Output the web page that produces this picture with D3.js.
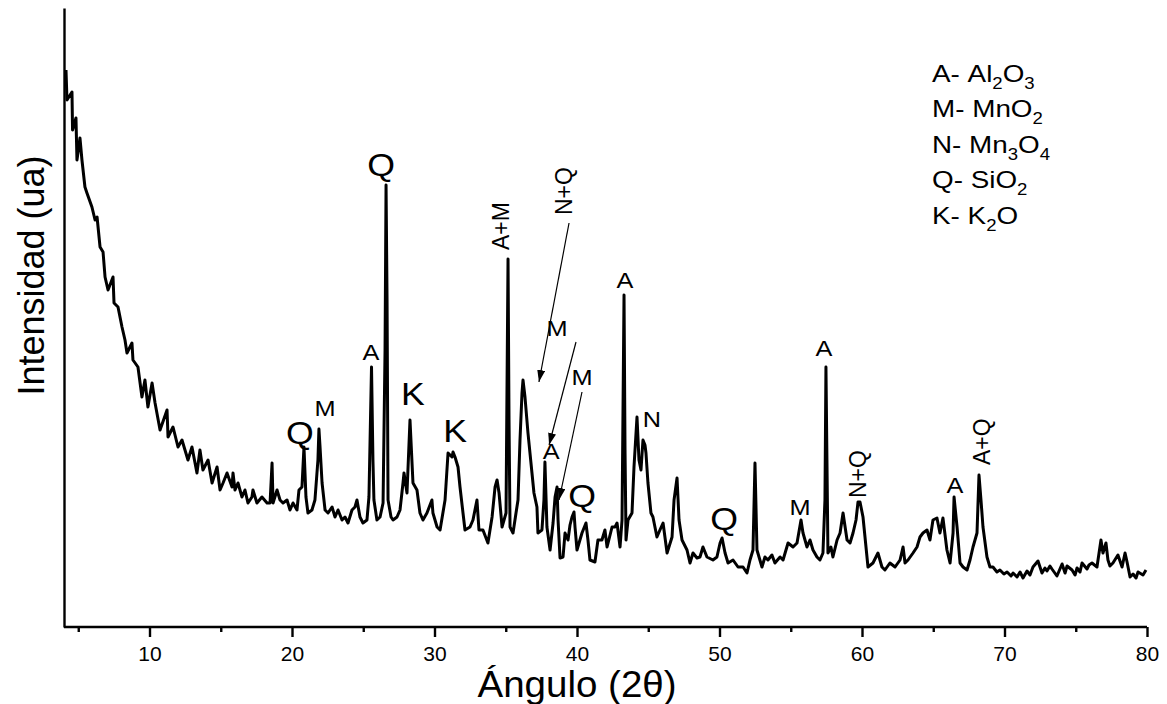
<!DOCTYPE html>
<html><head><meta charset="utf-8">
<script src="https://cdn.jsdelivr.net/npm/d3@7"></script>
<style>body{margin:0;background:#fff} text{font-family:"Liberation Sans",Arial,sans-serif;fill:#000}</style>
</head><body><svg id="c" width="1167" height="704"></svg>
<script>
const angle = [4.14,4.21,4.56,4.60,4.84,4.91,5.12,5.26,5.47,5.61,
5.96,6.18,6.32,6.53,6.74,6.88,7.09,7.44,7.51,7.79,
8.07,8.28,8.42,8.77,8.84,9.19,9.47,9.68,9.89,10.18,
10.39,10.74,11.23,11.30,11.65,12.00,12.28,12.49,12.70,12.98,
13.33,13.54,13.75,14.11,14.39,14.74,14.95,15.16,15.44,15.79,
15.86,16.00,16.21,16.49,16.70,16.91,17.19,17.26,17.54,17.89,
18.25,18.46,18.60,18.67,18.95,19.16,19.37,19.65,19.86,20.07,
20.35,20.49,20.70,20.84,20.98,21.12,21.40,21.61,21.82,21.89,
21.96,22.11,22.32,22.53,22.81,23.02,23.23,23.51,23.72,23.93,
24.21,24.42,24.56,24.77,24.98,25.26,25.40,25.58,25.68,25.75,
25.96,26.18,26.39,26.53,26.60,26.67,26.74,26.95,27.09,27.37,
27.58,27.79,27.86,28.07,28.28,28.49,28.77,28.98,29.19,29.47,
29.82,29.89,30.18,30.39,30.74,30.95,31.23,31.30,31.44,31.65,
31.79,32.00,32.14,32.49,32.70,32.98,33.12,33.40,33.75,34.04,
34.25,34.39,34.53,34.74,34.88,35.02,35.16,35.23,35.30,35.51,
35.72,35.86,36.00,36.14,36.21,36.35,36.56,36.84,36.98,37.19,
37.26,37.54,37.68,37.75,37.89,38.11,38.32,38.46,38.60,38.67,
38.81,39.02,39.16,39.37,39.51,39.65,39.79,39.86,40.00,40.35,
40.63,40.77,40.91,41.26,41.47,41.75,41.96,42.11,42.46,42.67,
42.81,43.02,43.16,43.30,43.37,43.44,43.58,43.86,44.00,44.21,
44.35,44.49,44.63,44.77,44.84,44.98,45.19,45.33,45.61,45.82,
46.04,46.32,46.67,46.81,47.02,47.16,47.37,47.72,47.93,48.14,
48.42,48.63,48.84,49.12,49.54,49.82,50.04,50.18,50.39,50.60,
50.95,51.30,51.65,51.93,52.14,52.35,52.49,52.63,52.98,53.19,
53.40,53.68,53.89,54.25,54.46,54.81,55.16,55.44,55.72,55.86,
56.14,56.35,56.56,56.84,57.05,57.26,57.40,57.47,57.54,57.61,
57.82,57.96,58.25,58.46,58.67,58.95,59.16,59.37,59.58,59.72,
59.86,60.07,60.42,60.77,61.12,61.40,61.61,61.96,62.32,62.67,
62.88,63.02,63.23,63.58,63.86,64.07,64.28,64.56,64.77,64.98,
65.26,65.47,65.68,65.96,66.18,66.39,66.46,66.67,66.88,67.09,
67.37,67.58,67.79,68.07,68.21,68.35,68.49,68.77,68.98,69.19,
69.47,69.68,69.96,70.18,70.46,70.60,70.88,71.09,71.30,71.58,
71.79,72.00,72.35,72.63,72.84,72.98,73.19,73.33,73.68,73.89,
74.04,74.25,74.39,74.74,74.95,75.09,75.30,75.44,75.79,75.93,
76.14,76.49,76.77,76.91,77.12,77.26,77.40,77.61,77.96,78.25,
78.46,78.60,78.81,79.02,79.23,79.37,79.72,79.93];
const intensity = [557,527,535,497,509,467,489,467,440,434,
420,407,410,380,375,350,337,350,324,320,
300,287,274,284,267,260,230,247,220,244,
224,197,217,190,200,180,187,177,167,180,
154,177,157,167,144,160,137,144,154,140,
154,137,144,130,137,124,130,137,124,130,
124,124,164,124,137,127,124,127,117,124,
117,137,140,180,130,114,117,127,167,198,
182,144,117,114,120,110,117,107,110,104,
117,120,127,110,104,107,130,260,167,127,
107,110,124,277,442,327,127,110,107,110,
117,144,154,134,207,144,137,114,107,114,
127,114,100,97,127,174,170,175,170,160,
140,114,97,100,107,127,97,97,84,110,
140,147,134,100,107,114,368,207,100,94,
114,127,187,234,247,230,194,154,134,120,
94,97,127,165,100,77,104,130,140,107,
69,70,94,87,102,110,115,100,77,94,
104,87,67,65,87,87,97,80,100,100,
104,80,107,332,177,87,107,114,160,210,
167,157,187,182,174,144,114,110,90,97,
104,74,90,127,149,107,87,77,64,74,
69,70,80,70,67,70,84,89,74,64,
67,60,60,54,67,77,164,77,60,70,
67,72,64,70,67,84,80,84,107,94,
80,87,77,70,67,74,127,260,167,74,
80,70,87,94,114,87,84,94,107,125,
125,110,60,64,74,60,57,64,60,67,
80,64,67,74,80,90,94,97,87,107,
109,94,109,77,64,94,130,100,64,60,
57,67,80,94,152,127,100,70,60,60,
55,57,53,55,51,54,50,55,49,56,
52,60,66,54,59,56,61,58,51,58,
63,54,61,57,52,59,55,64,58,62,
64,60,87,74,84,67,61,64,72,60,
74,65,50,53,49,55,52,57];
const majorTicks = [10,20,30,40,50,60,70,80];
const minorTicks = [5,15,25,35,45,55,65,75];
// peak labels: text, angle, intensity (baseline), size class
const labelText  = ["Q","Q","M","A","K","K","A","M","M","Q","A","N","Q","M","A","A"];
const labelAngle = [26.25,20.56,22.32,25.54,28.49,31.44,38.18,38.60,40.35,40.35,43.37,45.26,50.32,55.65,57.33,66.53];
const labelInt   = [451,183,211,267,222,185,168,291,242,120,339,200,97,112,271,134];
const labelBig   = [1,1,0,0,1,1,0,0,0,1,0,0,1,0,0,0];
// rotated labels
const rotText  = ["A+M","N+Q","N+Q","A+Q"];
const rotAngle = [35.23,39.65,60.28,68.98];
const rotInt   = [377,412,129,162];
// arrows: from (a1,i1) to (a2,i2)
const arrowA1 = [39.44,39.93,40.35], arrowI1 = [404,285,235];
const arrowA2 = [37.33,38.04,38.74], arrowI2 = [245,182,127];
// legend
const legendCode = ["A","M","N","Q","K"];
const legendParts = [
  [["Al",0],["2",1],["O",0],["3",1]],
  [["MnO",0],["2",1]],
  [["Mn",0],["3",1],["O",0],["4",1]],
  [["SiO",0],["2",1]],
  [["K",0],["2",1],["O",0]]
];

const svg = d3.select("#c");
const x = d3.scaleLinear().domain([4,80]).range([64,1147]);
const y = d3.scaleLinear().domain([0,619]).range([627,8]);

// line
const data = angle.map((a,i)=>[a,intensity[i]]);
svg.append("path").datum(data)
  .attr("fill","none").attr("stroke","#000").attr("stroke-width",3)
  .attr("stroke-linejoin","round")
  .attr("d", d3.line().x(d=>x(d[0])).y(d=>y(d[1])));

// axes
const xa = svg.append("g").attr("transform","translate(0,627)")
  .call(d3.axisBottom(x).tickValues(majorTicks).tickSize(10).tickPadding(9).tickFormat(d3.format("d")));
xa.select(".domain").attr("stroke-width",2.4).attr("d",`M${x(4)},0H${x(80)}`);
xa.selectAll(".tick line").attr("stroke-width",2.4);
xa.selectAll(".tick text").attr("font-size",21).attr("font-family","Liberation Sans, Arial, sans-serif");
const xm = svg.append("g").attr("transform","translate(0,627)")
  .call(d3.axisBottom(x).tickValues(minorTicks).tickSize(5).tickFormat(""));
xm.select(".domain").remove();
xm.selectAll(".tick line").attr("stroke-width",2.4);

const ya = svg.append("g").attr("transform",`translate(${x(4)},0)`)
  .call(d3.axisLeft(y).tickValues([]).tickSizeOuter(0));
ya.select(".domain").attr("stroke-width",2.4);

svg.append("text").attr("transform","translate(577,697) scale(1.07,1)").attr("text-anchor","middle")
  .attr("font-size",36).text("Ángulo (2θ)");
svg.append("text").attr("transform",`translate(44,${(8+627)/2-42}) rotate(-90)`)
  .attr("text-anchor","middle").attr("font-size",36).text("Intensidad (ua)");

// peak labels
svg.selectAll("text.pk").data(labelText).enter().append("text").attr("class","pk")
  .attr("transform",(d,i)=>`translate(${x(labelAngle[i])},${y(labelInt[i])}) scale(1.15,1)`)
  .attr("text-anchor","middle").attr("font-size",(d,i)=>labelBig[i]?31:22).text(d=>d);
svg.selectAll("text.rl").data(rotText).enter().append("text").attr("class","rl")
  .attr("transform",(d,i)=>`translate(${x(rotAngle[i])},${y(rotInt[i])}) rotate(-90)`)
  .attr("font-size",23).text(d=>d);

// arrows
svg.append("defs").append("marker").attr("id","ah").attr("viewBox","0 0 12 8")
  .attr("refX",12).attr("refY",4).attr("markerWidth",12).attr("markerHeight",8)
  .attr("markerUnits","userSpaceOnUse").attr("orient","auto")
  .append("path").attr("d","M0,0L12,4L0,8Z").attr("fill","#000");
svg.selectAll("line.ar").data(arrowA1).enter().append("line").attr("class","ar")
  .attr("x1",(d,i)=>x(arrowA1[i])).attr("y1",(d,i)=>y(arrowI1[i]))
  .attr("x2",(d,i)=>x(arrowA2[i])).attr("y2",(d,i)=>y(arrowI2[i]))
  .attr("stroke","#000").attr("stroke-width",1.2).attr("marker-end","url(#ah)");

// legend
const lg = svg.append("g").attr("transform","translate(932,0) scale(1.16,1)");
legendCode.forEach((c,i)=>{
  const t = lg.append("text").attr("x",0).attr("y",82+35.5*i).attr("font-size",24);
  t.append("tspan").text(c+"- ");
  let down = false;
  legendParts[i].forEach(p=>{
    if(p[1]){ t.append("tspan").attr("font-size",16).attr("dy",down?0:7).text(p[0]); down=true; }
    else { t.append("tspan").attr("dy",down?-7:0).text(p[0]); down=false; }
  });
});
</script></body></html>
